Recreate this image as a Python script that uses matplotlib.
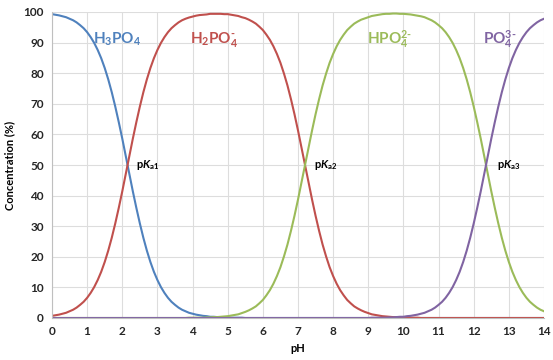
import matplotlib
matplotlib.use("Agg")
import matplotlib.pyplot as plt

# pH grid (every 0.1 units, 0 to 14)
ph = [i / 10 for i in range(141)]

# species fractions (%)
h3po4 = [99.3, 99.1, 98.9, 98.6, 98.3, 97.8, 97.3, 96.6, 95.7, 94.7,
         93.4, 91.8, 89.9, 87.6, 84.9, 81.7, 78.0, 73.8, 69.1, 64.0,
         58.6, 52.9, 47.1, 41.4, 36.0, 30.9, 26.2, 22.0, 18.3, 15.1,
         12.4, 10.1, 8.2, 6.6, 5.3, 4.3, 3.4, 2.7, 2.2, 1.7,
         1.4, 1.1, 0.9, 0.7, 0.6, 0.4, 0.4, 0.3, 0.2, 0.2,
         0.1, 0.1, 0.1, 0.1, 0.1, 0.0, 0.0, 0.0, 0.0, 0.0,
         0.0, 0.0, 0.0, 0.0, 0.0, 0.0, 0.0, 0.0, 0.0, 0.0,
         0.0, 0.0, 0.0, 0.0, 0.0, 0.0, 0.0, 0.0, 0.0, 0.0,
         0.0, 0.0, 0.0, 0.0, 0.0, 0.0, 0.0, 0.0, 0.0, 0.0,
         0.0, 0.0, 0.0, 0.0, 0.0, 0.0, 0.0, 0.0, 0.0, 0.0,
         0.0, 0.0, 0.0, 0.0, 0.0, 0.0, 0.0, 0.0, 0.0, 0.0,
         0.0, 0.0, 0.0, 0.0, 0.0, 0.0, 0.0, 0.0, 0.0, 0.0,
         0.0, 0.0, 0.0, 0.0, 0.0, 0.0, 0.0, 0.0, 0.0, 0.0,
         0.0, 0.0, 0.0, 0.0, 0.0, 0.0, 0.0, 0.0, 0.0, 0.0,
         0.0]
h2po4 = [0.7, 0.9, 1.1, 1.4, 1.7, 2.2, 2.7, 3.4, 4.3, 5.3,
         6.6, 8.2, 10.1, 12.4, 15.1, 18.3, 22.0, 26.2, 30.9, 36.0,
         41.4, 47.1, 52.9, 58.6, 64.0, 69.1, 73.8, 78.0, 81.7, 84.9,
         87.6, 89.9, 91.8, 93.4, 94.7, 95.7, 96.6, 97.3, 97.8, 98.2,
         98.5, 98.8, 99.0, 99.1, 99.2, 99.4, 99.4, 99.4, 99.4, 99.3,
         99.3, 99.1, 98.9, 98.7, 98.3, 98.0, 97.5, 96.9, 96.2, 95.2,
         94.1, 92.6, 90.9, 88.8, 86.3, 83.4, 79.9, 76.0, 71.5, 66.6,
         61.3, 55.7, 50.0, 44.3, 38.7, 33.4, 28.5, 24.0, 20.1, 16.6,
         13.7, 11.2, 9.1, 7.4, 5.9, 4.8, 3.8, 3.1, 2.5, 2.0,
         1.6, 1.2, 1.0, 0.8, 0.6, 0.5, 0.4, 0.3, 0.3, 0.2,
         0.2, 0.1, 0.1, 0.1, 0.1, 0.0, 0.0, 0.0, 0.0, 0.0,
         0.0, 0.0, 0.0, 0.0, 0.0, 0.0, 0.0, 0.0, 0.0, 0.0,
         0.0, 0.0, 0.0, 0.0, 0.0, 0.0, 0.0, 0.0, 0.0, 0.0,
         0.0, 0.0, 0.0, 0.0, 0.0, 0.0, 0.0, 0.0, 0.0, 0.0,
         0.0]
hpo4 = [0.0, 0.0, 0.0, 0.0, 0.0, 0.0, 0.0, 0.0, 0.0, 0.0,
        0.0, 0.0, 0.0, 0.0, 0.0, 0.0, 0.0, 0.0, 0.0, 0.0,
        0.0, 0.0, 0.0, 0.0, 0.0, 0.0, 0.0, 0.0, 0.0, 0.0,
        0.0, 0.0, 0.0, 0.0, 0.0, 0.0, 0.0, 0.0, 0.0, 0.1,
        0.1, 0.1, 0.1, 0.1, 0.2, 0.2, 0.3, 0.3, 0.4, 0.5,
        0.6, 0.8, 1.0, 1.2, 1.6, 2.0, 2.5, 3.1, 3.8, 4.8,
        5.9, 7.4, 9.1, 11.2, 13.7, 16.6, 20.1, 24.0, 28.5, 33.4,
        38.7, 44.3, 50.0, 55.7, 61.3, 66.6, 71.5, 76.0, 79.9, 83.4,
        86.3, 88.8, 90.9, 92.6, 94.1, 95.2, 96.2, 96.9, 97.5, 97.9,
        98.3, 98.7, 98.9, 99.1, 99.3, 99.4, 99.4, 99.5, 99.5, 99.4,
        99.4, 99.3, 99.2, 99.0, 98.8, 98.6, 98.3, 97.8, 97.3, 96.6,
        95.7, 94.7, 93.4, 91.8, 89.9, 87.6, 84.9, 81.7, 78.0, 73.8,
        69.1, 64.0, 58.6, 52.9, 47.1, 41.4, 36.0, 30.9, 26.2, 22.0,
        18.3, 15.1, 12.4, 10.1, 8.2, 6.6, 5.3, 4.3, 3.4, 2.7,
        2.2]
po4 = [0.0, 0.0, 0.0, 0.0, 0.0, 0.0, 0.0, 0.0, 0.0, 0.0,
       0.0, 0.0, 0.0, 0.0, 0.0, 0.0, 0.0, 0.0, 0.0, 0.0,
       0.0, 0.0, 0.0, 0.0, 0.0, 0.0, 0.0, 0.0, 0.0, 0.0,
       0.0, 0.0, 0.0, 0.0, 0.0, 0.0, 0.0, 0.0, 0.0, 0.0,
       0.0, 0.0, 0.0, 0.0, 0.0, 0.0, 0.0, 0.0, 0.0, 0.0,
       0.0, 0.0, 0.0, 0.0, 0.0, 0.0, 0.0, 0.0, 0.0, 0.0,
       0.0, 0.0, 0.0, 0.0, 0.0, 0.0, 0.0, 0.0, 0.0, 0.0,
       0.0, 0.0, 0.0, 0.0, 0.0, 0.0, 0.0, 0.0, 0.0, 0.0,
       0.0, 0.0, 0.0, 0.0, 0.0, 0.0, 0.0, 0.0, 0.0, 0.0,
       0.0, 0.1, 0.1, 0.1, 0.1, 0.1, 0.2, 0.2, 0.3, 0.4,
       0.4, 0.6, 0.7, 0.9, 1.1, 1.4, 1.7, 2.2, 2.7, 3.4,
       4.3, 5.3, 6.6, 8.2, 10.1, 12.4, 15.1, 18.3, 22.0, 26.2,
       30.9, 36.0, 41.4, 47.1, 52.9, 58.6, 64.0, 69.1, 73.8, 78.0,
       81.7, 84.9, 87.6, 89.9, 91.8, 93.4, 94.7, 95.7, 96.6, 97.3,
       97.8]

plt.rcParams['font.family'] = ['Lato', 'DejaVu Sans']
plt.rcParams['mathtext.fontset'] = 'custom'
plt.rcParams['mathtext.rm'] = 'Lato'
plt.rcParams['mathtext.it'] = 'Lato:italic:bold'
plt.rcParams['mathtext.bf'] = 'Lato:bold'

fig = plt.figure(figsize=(5.53, 3.6), dpi=100)
ax = fig.add_axes([52 / 553, 42 / 360, 492 / 553, 306 / 360])

blue, red, green, purple = '#4F81BD', '#C0504D', '#9BBB59', '#8064A2'
ax.plot(ph, h3po4, color=blue, lw=1.5)
ax.plot(ph, h2po4, color=red, lw=1.5)
ax.plot(ph, hpo4, color=green, lw=1.5)
ax.plot(ph, po4, color=purple, lw=1.5)

ax.set_xlim(0, 14)
ax.set_ylim(0, 100)
ax.set_xticks(range(0, 15))
ax.set_yticks(range(0, 101, 10))
ax.grid(True, color='#DDDDDD', lw=0.8)
ax.set_axisbelow(True)
for s in ['top', 'right']:
    ax.spines[s].set_visible(False)
for s in ['left', 'bottom']:
    ax.spines[s].set_color('#BFBFBF')
ax.tick_params(length=0, labelsize=8.5, pad=6, colors='#262626')
for lab in ax.get_xticklabels() + ax.get_yticklabels():
    lab.set_fontweight('bold')

ax.set_xlabel('pH', fontsize=8, fontweight='bold', labelpad=4)
ax.set_ylabel('Concentration (%)', fontsize=8, fontweight='bold', labelpad=6)

# species labels (hyphen-style charges as in the original)
ax.text(1.85, 91, r'$\mathbf{H_3PO_4}$', color=blue, fontsize=11, ha='center', va='center')
ax.text(4.6, 91, '$\\mathbf{H_2PO_4^{\u2010}}$', color=red, fontsize=11, ha='center', va='center')
ax.text(9.6, 91, '$\\mathbf{HPO_4^{2\u2010}}$', color=green, fontsize=11, ha='center', va='center')
ax.text(12.75, 91, '$\\mathbf{PO_4^{3\u2010}}$', color=purple, fontsize=11, ha='center', va='center')

# pKa labels
ax.text(2.4, 50, r'p$K$$_{\mathbf{a1}}$', fontsize=8, fontweight='bold', va='center')
ax.text(7.45, 50, r'p$K$$_{\mathbf{a2}}$', fontsize=8, fontweight='bold', va='center')
ax.text(12.65, 50, r'p$K$$_{\mathbf{a3}}$', fontsize=8, fontweight='bold', va='center')

fig.savefig('out.png', dpi=100)
